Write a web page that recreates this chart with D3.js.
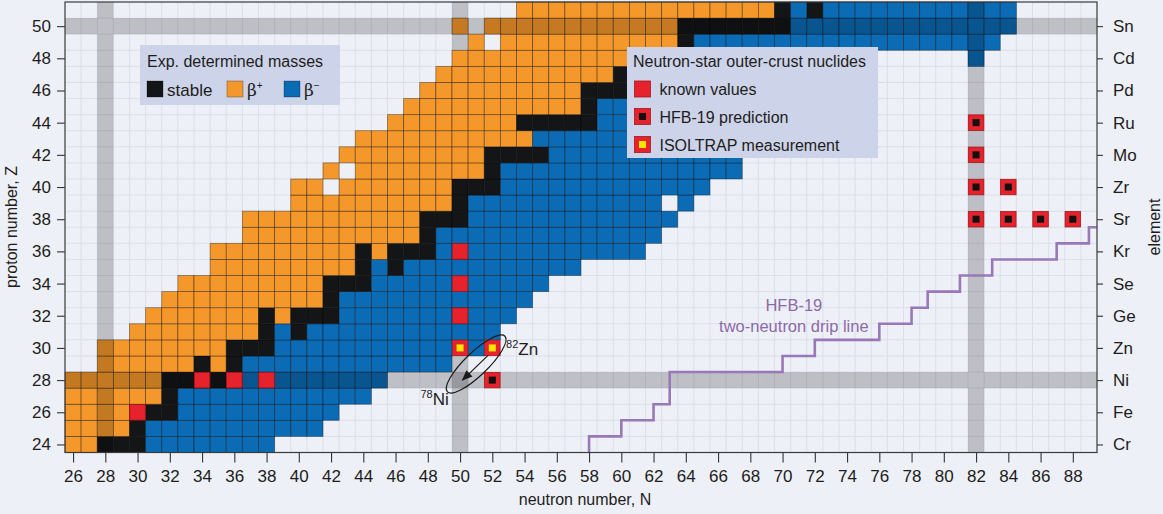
<!DOCTYPE html>
<html>
<head>
<meta charset="utf-8">
<script src="https://cdn.jsdelivr.net/npm/d3@7"></script>
<style>
  body { margin: 0; background: #eef0f7; }
  text { font-family: "Liberation Sans", Arial, sans-serif; fill: #1d1d20; }
</style>
</head>
<body>
<div id="chart"></div>
<script>
// rows of the nuclide chart, Z = 24 (Cr) ... 51 (Sb)
const protonNumbers = [24,25,26,27,28,29,30,31,32,33,34,35,36,37,38,39,40,41,42,43,44,45,46,47,48,49,50,51];

// neutron-number ranges [from, to] per row
const betaPlusN = [
  [[26,27]], [[26,29]], [[26,29]], [[26,31]], [[26,31]],
  [[28,33],[35,35]], [[28,35]], [[30,37]], [[31,37],[39,39]], [[32,41]],
  [[33,41]], [[35,43]], [[35,43],[45,45]], [[37,47]], [[37,47]],
  [[40,49]], [[40,41],[43,49]], [[42,42],[44,51]], [[43,51]], [[44,54]],
  [[46,53]], [[47,57]], [[48,57]], [[49,59]], [[50,61]],
  [[51,51],[53,63]], [[50,50],[52,63]], [[54,69]]
];
const stableN = [
  [[28,30]], [[30,30]], [[30,32]], [[32,32]], [[32,36]],
  [[34,34],[36,36]], [[36,38]], [[38,38],[40,40]], [[38,38],[40,42]], [[42,42]],
  [[42,44]], [[44,44],[46,46]], [[44,44],[46,48]], [[48,48]], [[48,50]],
  [[50,50]], [[50,52]], [[52,52]], [[52,55]], [],
  [[54,58]], [[58,58]], [[58,60]], [[60,60]], [[62,64]],
  [[64,64]], [[64,70]], [[70,70],[72,72]]
];
const betaMinusN = [
  [[31,38]], [[31,41]], [[33,42]], [[33,44]], [[37,45]],
  [[37,49]], [[39,49],[51,51]], [[39,39],[41,52]], [[43,53]], [[43,54]],
  [[45,55]], [[45,45],[47,57]], [[49,61]], [[49,62]], [[51,63]],
  [[51,62],[64,64]], [[53,65]], [[53,67]], [[56,67]], [[55,68]],
  [[59,69]], [[59,71]], [[61,72]], [[61,74]], [[65,75],[82,82]],
  [[65,83]], [[71,84]], [[71,71],[73,84]]
];

// outer-crust nuclides [N, Z]
const knownValues = [[30,26],[34,28],[36,28],[38,28],[50,32],[50,34],[50,36]];
const hfbPrediction = [[52,28],[82,38],[84,38],[86,38],[88,38],[82,40],[84,40],[82,42],[82,44]];
const isoltrapMeasurement = [[50,30],[52,30]];

// HFB-19 two-neutron drip line: last bound N for each Z
const dripZ = [24,25,26,27,28,29,30,31,32,33,34,35,36,37];
const dripN = [58,60,62,63,63,70,72,76,78,79,81,83,87,89];

const magicN = [28, 50, 82];
const magicZ = [28, 50];

const neutronTicks = [26,28,30,32,34,36,38,40,42,44,46,48,50,52,54,56,58,60,62,64,66,68,70,72,74,76,78,80,82,84,86,88];
const protonTicks = [24,26,28,30,32,34,36,38,40,42,44,46,48,50];
const elementSymbols = ["Cr","Fe","Ni","Zn","Ge","Se","Kr","Sr","Zr","Mo","Ru","Pd","Cd","Sn"];

const width = 1163, height = 514;
const color = { bp: "#f5982b", st: "#131517", bm: "#0b6bb5" };

const x = d3.scaleLinear().domain([25.5, 89.5]).range([65, 1097]);
const y = d3.scaleLinear().domain([23.5, 51.5]).range([452.5, 2]);
const cw = x(1) - x(0), ch = y(0) - y(1);

const svg = d3.select("#chart").append("svg")
    .attr("width", width).attr("height", height);

svg.append("defs").append("marker")
    .attr("id", "arrow").attr("viewBox", "0 0 10 10")
    .attr("refX", 9).attr("refY", 5)
    .attr("markerWidth", 9).attr("markerHeight", 9)
    .attr("orient", "auto")
  .append("path").attr("d", "M0,1 L10,5 L0,9 z").attr("fill", "#1a1a1a");

// plot background + light grid
svg.append("rect")
    .attr("x", x(25.5)).attr("y", y(51.5))
    .attr("width", x(89.5) - x(25.5)).attr("height", y(23.5) - y(51.5))
    .attr("fill", "#eef0f8");

const grid = svg.append("g").attr("stroke", "#d7dae6").attr("stroke-width", 0.8);
grid.selectAll("line.v").data(d3.range(26.5, 89.5, 1)).join("line")
    .attr("x1", d => x(d)).attr("x2", d => x(d))
    .attr("y1", y(51.5)).attr("y2", y(23.5));
grid.selectAll("line.h").data(d3.range(24.5, 51.5, 1)).join("line")
    .attr("y1", d => y(d)).attr("y2", d => y(d))
    .attr("x1", x(25.5)).attr("x2", x(89.5));

// N = 50 band sits behind the measured cells
svg.append("rect")
    .attr("x", x(49.5)).attr("width", cw)
    .attr("y", y(51.5)).attr("height", y(23.5) - y(51.5))
    .attr("fill", "#000").attr("opacity", 0.2);

// flatten the ranges into cells
let cells = [];
protonNumbers.forEach((z, i) => {
    [["bp", betaPlusN], ["st", stableN], ["bm", betaMinusN]].forEach(([type, src]) => {
        src[i].forEach(([a, b]) => {
            for (let n = a; n <= b; n++) cells.push({ n: n, z: z, type: type });
        });
    });
});

svg.append("g").selectAll("rect").data(cells).join("rect")
    .attr("x", d => x(d.n - 0.5)).attr("y", d => y(d.z + 0.5))
    .attr("width", cw).attr("height", ch)
    .attr("fill", d => color[d.type])
    .attr("stroke", "rgba(0,0,0,0.45)").attr("stroke-width", 0.8);

// magic-number bands over the cells
const bands = svg.append("g").attr("fill", "#000").attr("opacity", 0.2);
bands.selectAll("rect.n").data(magicN.filter(n => n !== 50)).join("rect")
    .attr("x", d => x(d - 0.5)).attr("width", cw)
    .attr("y", y(51.5)).attr("height", y(23.5) - y(51.5));
bands.selectAll("rect.z").data(magicZ).join("rect")
    .attr("y", d => y(d + 0.5)).attr("height", ch)
    .attr("x", x(25.5)).attr("width", x(89.5) - x(25.5));

// outer-crust markers
function crustMarker(sel, inner) {
    sel.append("rect")
        .attr("x", 0.3).attr("y", 0.3).attr("width", cw - 0.6).attr("height", ch - 0.6)
        .attr("fill", "#e6222c").attr("stroke", "#a5161d").attr("stroke-width", 0.8);
    if (inner) {
        sel.append("rect")
            .attr("x", cw / 2 - 3.5).attr("y", ch / 2 - 3.5)
            .attr("width", 7).attr("height", 7).attr("fill", inner);
    }
}
const markers = svg.append("g");
[[knownValues, null], [hfbPrediction, "#111"], [isoltrapMeasurement, "#ffe600"]].forEach(([pts, inner]) => {
    markers.append("g").selectAll("g").data(pts).join("g")
        .attr("transform", d => `translate(${x(d[0] - 0.5)},${y(d[1] + 0.5)})`)
        .each(function () { crustMarker(d3.select(this), inner); });
});

// drip line
let dripPts = [];
dripZ.forEach((z, i) => { dripPts.push([dripN[i], z - 0.5], [dripN[i], z + 0.5]); });
dripPts.push([89.5, dripZ[dripZ.length - 1] + 0.5]);
svg.append("path")
    .attr("d", d3.line().x(d => x(d[0])).y(d => y(d[1]))(dripPts))
    .attr("fill", "none").attr("stroke", "#9878b6").attr("stroke-width", 2.6);

svg.append("text").attr("x", x(70.7)).attr("y", y(32.27))
    .attr("text-anchor", "middle").attr("font-size", 16.5).style("fill", "#8c6aa7")
    .text("HFB-19");
svg.append("text").attr("x", x(70.7)).attr("y", y(30.98))
    .attr("text-anchor", "middle").attr("font-size", 16.5).style("fill", "#8c6aa7")
    .text("two-neutron drip line");

// 78Ni / 82Zn annotation
svg.append("ellipse")
    .attr("transform", `translate(${x(51)},${y(29)}) rotate(-44)`)
    .attr("rx", 40).attr("ry", 11.5)
    .attr("fill", "none").attr("stroke", "#1a1a1a").attr("stroke-width", 1.2);
svg.append("line")
    .attr("x1", x(51.75)).attr("y1", y(29.55))
    .attr("x2", x(50.15)).attr("y2", y(28.0))
    .attr("stroke", "#1a1a1a").attr("stroke-width", 1.2)
    .attr("marker-end", "url(#arrow)");

const zn = svg.append("text").attr("x", x(52.85)).attr("y", y(29.53));
zn.append("tspan").attr("font-size", 11).attr("dy", -7).text("82");
zn.append("tspan").attr("font-size", 17).attr("dy", 7).text("Zn");
const ni = svg.append("text").attr("x", x(49.3)).attr("y", y(26.44)).attr("text-anchor", "end");
ni.append("tspan").attr("font-size", 11).attr("dy", -7).text("78");
ni.append("tspan").attr("font-size", 17).attr("dy", 7).text("Ni");

// legends
const leg1 = svg.append("g");
leg1.append("rect").attr("x", 140).attr("y", 45).attr("width", 200).attr("height", 60).attr("fill", "#cdd3e9");
leg1.append("text").attr("x", 147).attr("y", 66.5).attr("font-size", 16).text("Exp. determined masses");
[[147, "st", "stable", null], [227, "bp", "β", "+"], [284, "bm", "β", "−"]].forEach(([lx, t, lab, sup]) => {
    leg1.append("rect").attr("x", lx).attr("y", 81).attr("width", 16).attr("height", 16)
        .attr("fill", color[t]).attr("stroke", "rgba(0,0,0,0.35)").attr("stroke-width", 0.8);
    const tx = leg1.append("text").attr("x", lx + 20).attr("y", 95.5).attr("font-size", 17);
    if (sup) {
        tx.append("tspan").style("font-family", "'DejaVu Serif', 'Liberation Serif', serif").attr("font-size", 17).text(lab);
        tx.append("tspan").attr("font-size", 10).attr("dy", -7).text(sup);
    } else {
        tx.text(lab);
    }
});

const leg2 = svg.append("g");
leg2.append("rect").attr("x", 627).attr("y", 47).attr("width", 251).attr("height", 111).attr("fill", "#cdd3e9");
leg2.append("text").attr("x", 633).attr("y", 67).attr("font-size", 16).text("Neutron-star outer-crust nuclides");
[[81, null, "known values"], [108.5, "#111", "HFB-19 prediction"], [136.5, "#ffe600", "ISOLTRAP measurement"]].forEach(([ly, inner, lab]) => {
    const g = leg2.append("g").attr("transform", `translate(634.5,${ly})`);
    g.append("rect").attr("width", 16).attr("height", 16)
        .attr("fill", "#e6222c").attr("stroke", "#a5161d").attr("stroke-width", 0.8);
    if (inner) g.append("rect").attr("x", 4.5).attr("y", 4.5).attr("width", 7).attr("height", 7).attr("fill", inner);
    leg2.append("text").attr("x", 659.5).attr("y", ly + 14).attr("font-size", 16).text(lab);
});

// axes
function styleAxis(g) {
    g.select(".domain").remove();
    g.selectAll(".tick line").attr("stroke", "#333").attr("stroke-width", 1.1);
    g.selectAll(".tick text").attr("font-size", 17)
        .attr("font-family", "'Liberation Sans', Arial, sans-serif").style("fill", "#1d1d20");
}
svg.append("g").attr("transform", `translate(0,${y(23.5)})`)
    .call(d3.axisBottom(x).tickValues(neutronTicks).tickSize(10).tickPadding(7))
    .call(styleAxis);
svg.append("g").attr("transform", `translate(${x(25.5)},0)`)
    .call(d3.axisLeft(y).tickValues(protonTicks).tickSize(8).tickPadding(6))
    .call(styleAxis);
svg.append("g").attr("transform", `translate(${x(89.5)},0)`)
    .call(d3.axisRight(y).tickValues(protonTicks).tickFormat((d, i) => elementSymbols[i]).tickSize(6).tickPadding(10))
    .call(styleAxis);

svg.append("rect")
    .attr("x", x(25.5)).attr("y", y(51.5))
    .attr("width", x(89.5) - x(25.5)).attr("height", y(23.5) - y(51.5))
    .attr("fill", "none").attr("stroke", "#3a3a3a").attr("stroke-width", 1.2);

svg.append("text").attr("x", 585).attr("y", 505).attr("text-anchor", "middle")
    .attr("font-size", 16).text("neutron number, N");
svg.append("text").attr("transform", "translate(17,227) rotate(-90)").attr("text-anchor", "middle")
    .attr("font-size", 16).text("proton number, Z");
svg.append("text").attr("transform", "translate(1160,227) rotate(-90)").attr("text-anchor", "middle")
    .attr("font-size", 16).text("element");
</script>
</body>
</html>
